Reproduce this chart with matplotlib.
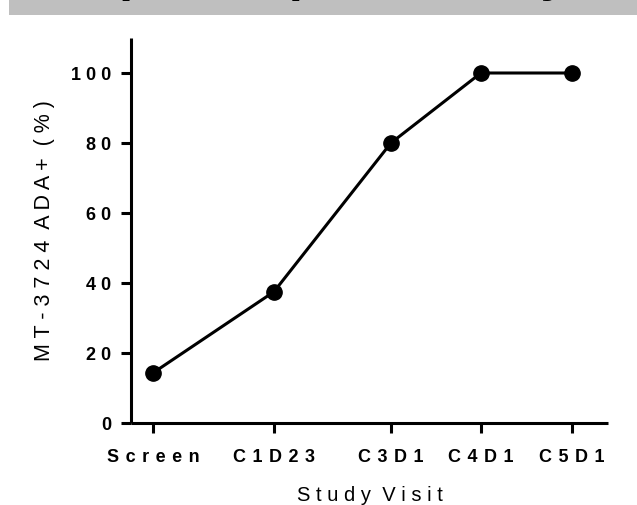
import matplotlib
matplotlib.use("Agg")
import matplotlib.pyplot as plt
from matplotlib.patches import Rectangle

plt.rcParams['font.family'] = ['Liberation Sans', 'DejaVu Sans']

# ---- data ----
visits = ["Screen", "C1D23", "C3D1", "C4D1", "C5D1"]
visit_pos = [0.0, 1.344, 2.644, 3.644, 4.656]
ada_pos_pct = [14.3, 37.5, 80.0, 100.0, 100.0]
y_ticks = [0, 20, 40, 60, 80, 100]
x_label = "Study Visit"
y_label = "MT-3724 ADA+ (%)"
banner_title = "ADA Response (Final Analysis)"

SEP_X = " \u200a"


def spaced(s, sep):
    return sep.join(list(s)).replace(sep + " " + sep, "  ")


fig = plt.figure(figsize=(6.37, 5.05), dpi=100)

# gray banner at top (cropped title area)
fig.add_artist(Rectangle((9 / 637, (505 - 15) / 505), 1 - 9 / 637, 15 / 505,
                         transform=fig.transFigure, facecolor="#bfbfbf",
                         edgecolor="none", zorder=0))
fig.text(-0.150, 1.0205, banner_title, fontsize=36.5, fontweight="bold",
         color="black", va="baseline", ha="left", zorder=1)

ax = fig.add_axes([131 / 637, 82 / 505, (608 - 131) / 637, (423 - 38) / 505])

ax.plot(visit_pos, ada_pos_pct, color="black", linewidth=2.2, marker="o",
        markersize=11, clip_on=False, zorder=3)

ax.set_xlim(-0.244, 5.056)
ax.set_ylim(0, 110)

for side in ("top", "right"):
    ax.spines[side].set_visible(False)
for side in ("left", "bottom"):
    ax.spines[side].set_linewidth(2.2)
    ax.spines[side].set_capstyle("butt")

ax.set_xticks(visit_pos)
ax.set_xticklabels([spaced(v, SEP_X) for v in visits], fontsize=13, fontweight="bold")
ax.set_yticks(y_ticks)
ax.set_yticklabels([spaced(str(t), " ") for t in y_ticks], fontsize=13, fontweight="bold")

ax.tick_params(axis="x", length=7, width=2.2, pad=12, direction="out")
ax.tick_params(axis="y", length=7, width=2.2, pad=7, direction="out")

ax.set_xlabel(spaced(x_label, " "), fontsize=14.5, labelpad=14)
ax.set_ylabel(spaced(y_label, " "), fontsize=15.5, labelpad=12)

fig.savefig("out.png", dpi=100)
